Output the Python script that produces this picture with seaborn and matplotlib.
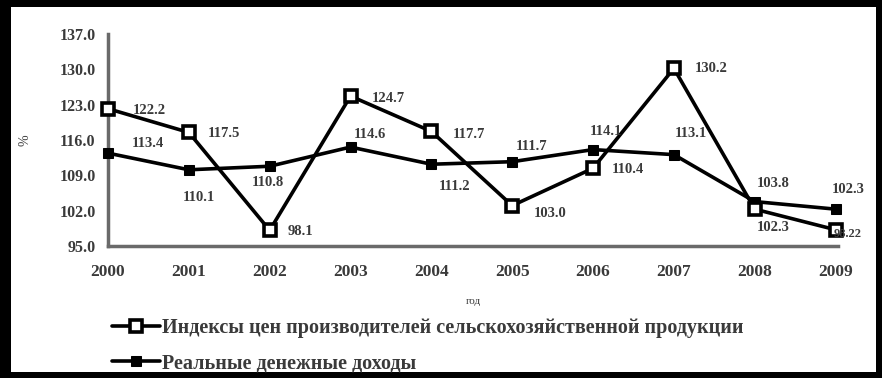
import matplotlib
matplotlib.use("Agg")
import matplotlib.pyplot as plt
import matplotlib.patches as mpatches
import seaborn as sns
import pandas as pd

years = [2000, 2001, 2002, 2003, 2004, 2005, 2006, 2007, 2008, 2009]
price_index = [122.2, 117.5, 98.1, 124.7, 117.7, 103.0, 110.4, 130.2, 102.3, 98.22]
real_income = [113.4, 110.1, 110.8, 114.6, 111.2, 111.7, 114.1, 113.1, 103.8, 102.3]
y_ticks = [95.0, 102.0, 109.0, 116.0, 123.0, 130.0, 137.0]
name_price = "Индексы цен производителей сельскохозяйственной продукции"
name_income = "Реальные денежные доходы"
x_title = "год"
y_title = "%"

# label offsets (points, label centre relative to point) and sizes
off_price = [(30, -1), (25, -1), (22, -1), (27, -2), (27, -2), (27, -6), (25, -1), (27, 0), (13, -13), (9, -3)]
size_price = [10.5] * 9 + [9]
off_income = [(29, 7), (7, -20), (-1, -12), (14, 9), (17, -16), (14, 11), (9, 13), (12, 15), (13, 13), (9, 14)]

sns.set_theme(style="white")
plt.rcParams["font.family"] = ["Liberation Serif", "DejaVu Serif"]

fig = plt.figure(figsize=(8.82, 3.78), dpi=100, facecolor="black")
fig.patches.append(mpatches.Rectangle((11 / 882, 6 / 378), (876 - 11) / 882, (371 - 6) / 378,
                                      transform=fig.transFigure, facecolor="white",
                                      edgecolor="none", zorder=-10))
ax = fig.add_axes([108 / 882, 1 - 246 / 378, (838 - 108) / 882, (246 - 34) / 378])
ax.set_zorder(5)
ax.set_facecolor("white")

df = pd.DataFrame({"year": years, "price": price_index, "income": real_income})

sns.lineplot(data=df, x="year", y="price", ax=ax, color="black", lw=2.6, marker="s",
             markersize=8, markerfacecolor="white", markeredgecolor="black",
             markeredgewidth=2.6, label=name_price, clip_on=False, zorder=4, legend=False)
sns.lineplot(data=df, x="year", y="income", ax=ax, color="black", lw=2.6, marker="s",
             markersize=7, markerfacecolor="black", markeredgecolor="black",
             label=name_income, clip_on=False, zorder=3, legend=False)

txt_color = "#3a3a3a"
for x, v, o, s in zip(years, price_index, off_price, size_price):
    ax.annotate(f"{v}", (x, v), xytext=o, textcoords="offset points", ha="center", va="center",
                fontsize=s, color=txt_color, fontweight="bold", zorder=5)
for x, v, o in zip(years, real_income, off_income):
    ax.annotate(f"{v}", (x, v), xytext=o, textcoords="offset points", ha="center", va="center",
                fontsize=10.5, color=txt_color, fontweight="bold", zorder=5)

ax.set_xlim(2000, 2009.03)
ax.set_ylim(95, 137)
ax.set_xticks(years)
ax.set_xticklabels([str(y) for y in years])
ax.set_yticks(y_ticks)
ax.set_yticklabels([f"{t:.1f}" for t in y_ticks])
for lab in ax.get_xticklabels() + ax.get_yticklabels():
    lab.set_fontweight("bold")
    lab.set_color(txt_color)
ax.tick_params(axis="x", direction="out", length=5, width=3, color="black", labelsize=12.5, pad=8)
ax.tick_params(axis="y", direction="out", length=4, width=2, color="black", labelsize=11.5, pad=5)

for side in ["top", "right"]:
    ax.spines[side].set_visible(False)
for side in ["left", "bottom"]:
    ax.spines[side].set_color("#6a6a6a")
    ax.spines[side].set_linewidth(2.5)

ax.set_xlabel(x_title, fontsize=8, color=txt_color, labelpad=12)
ax.set_ylabel(y_title, fontsize=10, color=txt_color)
ax.yaxis.set_label_coords(-0.105, 0.5)

handles, labels = ax.get_legend_handles_labels()
leg = fig.legend(handles, labels, loc="upper left", bbox_to_anchor=(112 / 882, 1 - 318 / 378),
                 frameon=False, fontsize=14.5, handlelength=2.4, handletextpad=0.1,
                 labelspacing=0.75, borderaxespad=0, borderpad=0)
for t in leg.get_texts():
    t.set_fontweight("bold")
    t.set_color(txt_color)

fig.savefig("out.png", dpi=100, facecolor="black")
